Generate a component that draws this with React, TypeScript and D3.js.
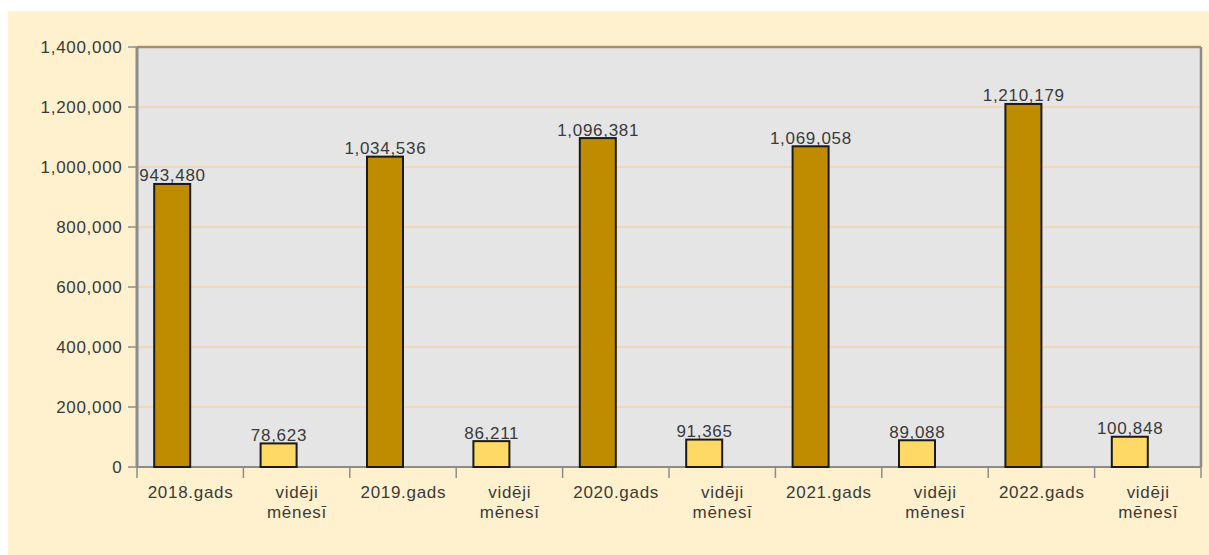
import React from "react";
import * as d3 from "d3";

const categories = [
  "2018.gads", "vidēji mēnesī", "2019.gads", "vidēji mēnesī", "2020.gads",
  "vidēji mēnesī", "2021.gads", "vidēji mēnesī", "2022.gads", "vidēji mēnesī",
];
const values = [943480, 78623, 1034536, 86211, 1096381, 91365, 1069058, 89088, 1210179, 100848];
const isYear = [true, false, true, false, true, false, true, false, true, false];
const yTicks = [0, 200000, 400000, 600000, 800000, 1000000, 1200000, 1400000];

const W = 1209, H = 555;
const left = 137, right = 1201, top = 47, bottom = 467;
const font = "'Liberation Sans', Arial, sans-serif";
const fs = 17;
const ls = 0.7;

export default function App() {
  const keys = categories.map((_, i) => String(i));
  const x = d3.scaleBand().domain(keys).range([left, right]).padding(0);
  const y = d3.scaleLinear().domain([0, 1400000]).range([bottom, top]);
  const fmt = d3.format(",");
  const bw = 36;
  return (
    <svg width={W} height={H} style={{ position: "absolute", left: 0, top: 0 }}>
      <rect x={8} y={11} width={W - 8} height={H - 11} fill="#FFF1CD" />
      <rect x={left} y={top} width={right - left} height={bottom - top} fill="#E5E5E5" />
      {yTicks.slice(1, -1).map((t) => (
        <line key={t} x1={left} x2={right} y1={y(t)} y2={y(t)} stroke="#F2D4A8" strokeWidth={1.5} />
      ))}
      <line x1={left} x2={right} y1={top} y2={top} stroke="#A88F6A" strokeWidth={2.5} />
      <line x1={right} x2={right} y1={top} y2={bottom} stroke="#8C8C8C" strokeWidth={2.5} />
      <line x1={left} x2={left} y1={top} y2={bottom} stroke="#8C8C8C" strokeWidth={3} />
      <line x1={left} x2={right} y1={bottom} y2={bottom} stroke="#8C8C8C" strokeWidth={2} />
      {yTicks.map((t) => (
        <g key={t}>
          <line x1={128} x2={left} y1={y(t)} y2={y(t)} stroke="#8C8C8C" strokeWidth={1.5} />
          <text x={122.5} y={y(t) + 6} textAnchor="end" fontFamily={font} fontSize={fs} letterSpacing={ls} fill="#3a3a3a">
            {fmt(t)}
          </text>
        </g>
      ))}
      {keys.map((k) => (
        <line key={"xt" + k} x1={x(k)!} x2={x(k)!} y1={bottom} y2={bottom + 11} stroke="#8C8C8C" strokeWidth={1.5} />
      ))}
      <line x1={right} x2={right} y1={bottom} y2={bottom + 11} stroke="#8C8C8C" strokeWidth={1.5} />
      {values.map((v, i) => {
        const cx = x(keys[i])! + x.bandwidth() / 2;
        const bx = cx - bw;
        return (
          <g key={"b" + i}>
            <rect x={bx} y={y(v)} width={bw} height={bottom - y(v)} fill={isYear[i] ? "#BF8C00" : "#FFD966"} stroke="#1a1a1a" strokeWidth={2} />
            <text x={bx + bw / 2 + ls / 2} y={y(v) - 2.5} textAnchor="middle" fontFamily={font} fontSize={fs} letterSpacing={ls} fill="#3a3a3a">
              {fmt(v)}
            </text>
          </g>
        );
      })}
      {categories.map((c, i) => {
        const cx = x(keys[i])! + x.bandwidth() / 2 + ls / 2;
        const parts = c.startsWith("vid") ? ["vidēji", "mēnesī"] : [c];
        return (
          <text key={"l" + i} textAnchor="middle" fontFamily={font} fontSize={fs} letterSpacing={ls} fill="#3a3a3a">
            {parts.map((p, j) => (
              <tspan key={j} x={cx} y={498 + j * 19.5}>{p}</tspan>
            ))}
          </text>
        );
      })}
    </svg>
  );
}
